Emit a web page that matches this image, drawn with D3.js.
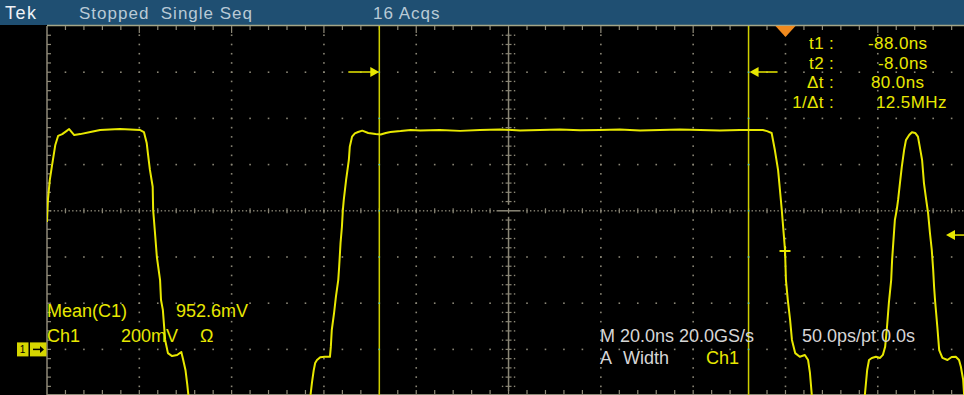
<!DOCTYPE html>
<html><head><meta charset="utf-8">
<script src="https://cdn.jsdelivr.net/npm/d3@7"></script>
<style>
html,body{margin:0;padding:0;background:#000;overflow:hidden}
svg{display:block}
text{font-family:"Liberation Sans",Arial,sans-serif}
</style>
</head><body>
<script>
// ---------------- data ----------------
// waveform: time in ns (t=0 at trigger), voltage in V (200 mV/div)
const timeNs = [
  -160.0,-159.8,-159.4,-158.9,-158.2,-157.6,-156.7,-155.8,-155.2,-154.1,-152.8,-150.6,-148.5,-146.4,-144.2,-142.0,-139.9,-139.0,
  -138.4,-138.1,-137.7,-137.1,-137.0,-136.6,-136.2,-135.5,-135.3,-134.9,-134.4,-133.8,-132.9,-131.8,-130.9,-130.5,-130.0,-129.6,-129.3,-128.9,
  -103.3,-102.9,-102.6,-102.2,-101.9,-101.5,-100.8,-99.8,-98.7,-98.5,-98.3,-97.8,-97.4,-96.9,-96.7,-96.4,-96.1,-95.9,-95.7,-95.2,-94.6,-94.4,-93.9,-93.3,-92.6,-91.7,-90.4,-88.8,-87.7,-86.6,-85.6,-83.4,-81.2,-79.1,
  -74.9,-70.5,-66.2,-61.9,-57.5,-53.2,-48.9,-44.5,-40.2,-35.9,-31.5,-27.2,-22.9,-18.5,-14.2,-9.9,-4.9,-4.0,-3.0,-2.3,-1.6,-1.2,-0.8,-0.4,-0.1,0.1,0.5,1.0,1.4,2.1,3.1,4.2,4.9,5.3,5.7,6.0,
  17.0,17.2,17.7,18.1,18.7,19.6,20.5,21.1,21.6,22.0,22.4,22.9,23.1,23.4,23.7,24.1,24.4,24.8,25.2,25.7,26.1,26.8,27.4,28.1,28.7,29.1,29.6,30.0,30.4,30.9,31.3,31.7,32.0,32.2,32.4,32.9,33.3,34.0,35.1,36.0,36.9,37.6,38.0,38.5,38.7,38.9
];
const voltsV = [
  0.552,0.647,0.733,0.798,0.885,0.924,0.932,0.945,0.954,0.928,0.932,0.941,0.950,0.952,0.954,0.952,0.950,0.941,
  0.894,0.842,0.777,0.704,0.603,0.504,0.401,0.300,0.214,0.171,0.041,-0.016,-0.029,-0.024,-0.011,-0.045,-0.089,-0.154,-0.21,-0.25,
  -0.25,-0.197,-0.145,-0.089,-0.059,-0.046,-0.034,-0.032,-0.032,0.012,0.084,0.158,0.228,0.300,0.358,0.461,0.531,0.603,0.647,0.733,0.820,0.877,0.921,0.935,0.941,0.947,0.937,0.932,0.930,0.937,0.941,0.945,0.950,0.948,
  0.950,0.946,0.950,0.952,0.948,0.950,0.952,0.949,0.950,0.952,0.948,0.950,0.952,0.950,0.948,0.950,0.950,0.945,0.937,0.863,0.776,0.690,0.603,0.504,0.430,0.300,0.214,0.128,0.041,-0.016,-0.032,-0.024,-0.046,-0.102,-0.197,-0.25,
  -0.25,-0.197,-0.089,-0.046,-0.037,-0.032,-0.037,-0.024,0.012,0.098,0.201,0.300,0.387,0.474,0.560,0.603,0.647,0.720,0.790,0.863,0.906,0.928,0.940,0.937,0.921,0.877,0.820,0.720,0.660,0.590,0.504,0.430,0.344,0.270,0.214,0.098,-0.003,-0.037,-0.046,-0.033,-0.032,-0.046,-0.075,-0.132,-0.197,-0.25
];
const timeDomain = [-160, 40];      // 20 ns/div, 10 div
const voltDomain = [-0.2, 1.4];     // 200 mV/div, 8 div
const cursorTimes = [-88, -8];
const triggerTime = 0;
const triggerLevel = 0.495;
const widthMarker = {t: -0.1, v: 0.426};
const statusTexts = ["Tek", "Stopped  Single Seq", "16 Acqs"];
const readoutLabels = ["t1", "t2", "\u0394t", "1/\u0394t"];
const readoutValues = ["-88.0ns", "-8.0ns", "80.0ns", "12.5MHz"];
const measureTexts = ["Mean(C1)", "952.6mV"];
const channelTexts = ["Ch1", "200mV", "\u03A9"];
const timebaseTexts = ["M 20.0ns 20.0GS/s", "50.0ps/pt 0.0s"];
const triggerTexts = ["A", "Width", "Ch1"];

// ---------------- drawing ----------------
const W = 964, H = 395;
const YEL = "#e8e800", YEL2 = "#cfcf00", GRID = "#8a8676", WHITE = "#d6d6d6";
const x = d3.scaleLinear().domain(timeDomain).range([47, 970.1]);
const y = d3.scaleLinear().domain(voltDomain).range([395.6, 26]);

const svg = d3.select("body").append("svg").attr("width", W).attr("height", H);
svg.append("rect").attr("width", W).attr("height", H).attr("fill", "#000");

// top status bar
svg.append("rect").attr("x", 0).attr("y", 0).attr("width", W).attr("height", 25).attr("fill", "#1f4f72");
const bar = svg.append("g").attr("font-size", 17);
bar.append("text").attr("x", 5).attr("y", 19).attr("fill", "#eef2f6").attr("letter-spacing", 1.5).attr("font-size", 18).text(statusTexts[0]);
bar.append("text").attr("x", 79).attr("y", 19).attr("fill", "#b9cad6").attr("letter-spacing", 1).attr("xml:space", "preserve").style("white-space", "pre").text(statusTexts[1]);
bar.append("text").attr("x", 373).attr("y", 19).attr("fill", "#b9cad6").attr("letter-spacing", 1).text(statusTexts[2]);

const defs = svg.append("defs");
defs.append("clipPath").attr("id", "plot").append("rect").attr("x", 47).attr("y", 26).attr("width", W - 47).attr("height", H - 26);

const g = svg.append("g");
const tMajors = d3.range(0, 11).map(i => timeDomain[0] + 20 * i);
const vMajors = d3.range(0, 9).map(j => voltDomain[0] + 0.2 * j);
const tCenter = -60, vCenter = 0.6;

// dotted gridlines
const dots = [];
tMajors.slice(1, 10).forEach(t => {
  if (t === tCenter) return;
  d3.range(1, 40).forEach(k => dots.push([x(t), y(voltDomain[0] + 0.04 * k)]));
});
vMajors.slice(1, 8).forEach(v => {
  if (Math.abs(v - vCenter) < 1e-6) return;
  d3.range(1, 50).forEach(k => dots.push([x(timeDomain[0] + 4 * k), y(v)]));
});
g.selectAll("rect.dot").data(dots).join("rect").attr("class", "dot")
  .attr("x", d => d[0] - 0.8).attr("y", d => d[1] - 0.8).attr("width", 1.6).attr("height", 1.6).attr("fill", GRID);

// center horizontal line: fine dots + ticks
const cy = y(vCenter), cx = x(tCenter);
const cdots = d3.range(1, 250).map(k => timeDomain[0] + 0.8 * k).filter(t => Math.abs(x(t) - cx) > 12);
g.selectAll("rect.cdot").data(cdots).join("rect").attr("class", "cdot")
  .attr("x", d => x(d) - 0.7).attr("y", cy - 0.7).attr("width", 1.4).attr("height", 1.4).attr("fill", GRID);
g.selectAll("line.ctick").data(d3.range(1, 50).map(k => timeDomain[0] + 4 * k)).join("line").attr("class", "ctick")
  .attr("x1", d => x(d)).attr("x2", d => x(d)).attr("y1", cy - 2.5).attr("y2", cy + 2.5).attr("stroke", GRID).attr("stroke-width", 1.2);
g.append("line").attr("x1", cx - 12).attr("x2", cx + 12).attr("y1", cy).attr("y2", cy).attr("stroke", GRID).attr("stroke-width", 1.5);
// center vertical line
g.append("line").attr("x1", cx).attr("x2", cx).attr("y1", y(1.37)).attr("y2", cy - 6).attr("stroke", GRID).attr("stroke-width", 1.5);
g.append("line").attr("x1", cx).attr("x2", cx).attr("y1", cy + 6).attr("y2", y(-0.18)).attr("stroke", GRID).attr("stroke-width", 1.5);
const vt = d3.range(1, 40).map(k => voltDomain[0] + 0.04 * k).filter(v => Math.abs(y(v) - cy) > 6);
g.selectAll("line.vtick").data(vt).join("line").attr("class", "vtick")
  .attr("x1", cx - 3).attr("x2", cx + 3).attr("y1", d => y(d)).attr("y2", d => y(d)).attr("stroke", GRID).attr("stroke-width", 1.2);
g.selectAll("rect.vtd").data(vt.flatMap(v => [[cx - 6, y(v)], [cx + 6, y(v)]])).join("rect").attr("class", "vtd")
  .attr("x", d => d[0] - 0.7).attr("y", d => d[1] - 0.7).attr("width", 1.4).attr("height", 1.4).attr("fill", GRID);

// frame
const FR = "#a4a688";
g.append("line").attr("x1", 47).attr("x2", 47).attr("y1", 26).attr("y2", H).attr("stroke", "#8f8a78").attr("stroke-width", 1.5);
g.append("line").attr("x1", 47).attr("x2", W).attr("y1", 25.5).attr("y2", 25.5).attr("stroke", FR).attr("stroke-width", 1.5);
g.append("line").attr("x1", 47).attr("x2", W).attr("y1", 394.5).attr("y2", 394.5).attr("stroke", "#8f8a78").attr("stroke-width", 1.2);
const edgeT = d3.range(1, 50).map(k => timeDomain[0] + 4 * k);
g.selectAll("line.tt").data(edgeT).join("line").attr("class", "tt")
  .attr("x1", d => x(d)).attr("x2", d => x(d)).attr("y1", 26).attr("y2", (d, i) => (i + 1) % 5 === 0 ? 33 : 30).attr("stroke", "#8f8a78").attr("stroke-width", 1.2);
g.selectAll("line.bt").data(edgeT).join("line").attr("class", "bt")
  .attr("x1", d => x(d)).attr("x2", d => x(d)).attr("y1", 394).attr("y2", 390).attr("stroke", "#8f8a78").attr("stroke-width", 1.2);
g.selectAll("line.lt").data(d3.range(1, 40).map(k => voltDomain[0] + 0.04 * k)).join("line").attr("class", "lt")
  .attr("x1", 47).attr("x2", 51).attr("y1", d => y(d)).attr("y2", d => y(d)).attr("stroke", "#8f8a78").attr("stroke-width", 1.2);

// cursors
cursorTimes.forEach(t => {
  g.append("line").attr("x1", x(t)).attr("x2", x(t)).attr("y1", 26).attr("y2", H).attr("stroke", YEL2).attr("stroke-width", 1.5);
  vMajors.slice(1, 8).forEach(v => g.append("rect").attr("x", x(t) - 0.7).attr("y", y(v) - 0.7).attr("width", 1.4).attr("height", 1.4).attr("fill", "#40c8c8"));
});
const ay = 72;
// cursor 1 arrow (points right to the cursor)
g.append("line").attr("x1", x(cursorTimes[0]) - 31).attr("x2", x(cursorTimes[0]) - 6).attr("y1", ay).attr("y2", ay).attr("stroke", YEL).attr("stroke-width", 1.5);
g.append("path").attr("d", `M${x(cursorTimes[0])},${ay} l-9,-5 l0,10 z`).attr("fill", YEL);
// cursor 2 arrow (points left to the cursor)
g.append("line").attr("x1", x(cursorTimes[1]) + 6).attr("x2", x(cursorTimes[1]) + 29).attr("y1", ay).attr("y2", ay).attr("stroke", YEL).attr("stroke-width", 1.5);
g.append("path").attr("d", `M${x(cursorTimes[1]) + 1},${ay} l9,-5 l0,10 z`).attr("fill", YEL);

// waveform
const pts = timeNs.map((t, i) => [t, voltsV[i]]);
svg.append("path").datum(pts).attr("clip-path", "url(#plot)")
  .attr("d", d3.line().x(d => x(d[0])).y(d => y(d[1])))
  .attr("fill", "none").attr("stroke", YEL).attr("stroke-width", 2).attr("stroke-linejoin", "round");

// width measurement marker
const mx = x(widthMarker.t), my = y(widthMarker.v);
svg.append("path").attr("d", `M${mx - 5.5},${my} H${mx + 5.5} M${mx},${my - 5} V${my + 5}`).attr("stroke", YEL).attr("stroke-width", 2);

// trigger marker (orange) at top
const tx = x(triggerTime);
svg.append("path").attr("d", `M${tx - 10},26 L${tx + 10},26 L${tx},37 z`).attr("fill", "#f08a1e");
// trigger level arrow at right
const ty = y(triggerLevel);
svg.append("line").attr("x1", 953).attr("x2", W).attr("y1", ty).attr("y2", ty).attr("stroke", YEL).attr("stroke-width", 1.5);
svg.append("path").attr("d", `M946,${ty} l9,-5 l0,10 z`).attr("fill", YEL);

// ground marker "1 ->" at 0 V
const gy = y(0);
svg.append("rect").attr("x", 17).attr("y", gy - 7).attr("width", 11.5).attr("height", 14).attr("fill", "#d6d600");
svg.append("rect").attr("x", 30).attr("y", gy - 7).attr("width", 16.5).attr("height", 14).attr("fill", "#d6d600");
svg.append("text").attr("x", 22.5).attr("y", gy + 4).attr("font-size", 10).attr("fill", "#000").attr("text-anchor", "middle").text("1");
svg.append("line").attr("x1", 33).attr("x2", 41).attr("y1", gy).attr("y2", gy).attr("stroke", "#000").attr("stroke-width", 1.5);
svg.append("path").attr("d", `M44,${gy} l-4,-3.5 l0,7 z`).attr("fill", "#000");

// cursor readouts
const ro = svg.append("g").attr("font-size", 17).attr("fill", YEL).attr("letter-spacing", 0.4);
const roStart = [868, 878, 871, 876];
readoutLabels.forEach((lab, i) => {
  const by = 49 + i * 19.7;
  ro.append("text").attr("x", 824).attr("y", by).attr("text-anchor", "end").text(lab);
  ro.append("text").attr("x", 829).attr("y", by).text(":");
  ro.append("text").attr("x", roStart[i]).attr("y", by).text(readoutValues[i]);
});

// bottom-left measurement + channel texts
const bl = svg.append("g").attr("font-size", 18).attr("fill", YEL);
bl.append("text").attr("x", 47).attr("y", 317).text(measureTexts[0]);
bl.append("text").attr("x", 176).attr("y", 317).text(measureTexts[1]);
bl.append("text").attr("x", 47).attr("y", 342).text(channelTexts[0]);
bl.append("text").attr("x", 121).attr("y", 342).text(channelTexts[1]);
bl.append("text").attr("x", 200).attr("y", 342).text(channelTexts[2]);

// bottom-right timebase/trigger texts
const br = svg.append("g").attr("font-size", 18).attr("fill", WHITE);
br.append("text").attr("x", 600).attr("y", 342).text(timebaseTexts[0]);
br.append("text").attr("x", 802).attr("y", 342).text(timebaseTexts[1]);
br.append("text").attr("x", 600).attr("y", 364).text(triggerTexts[0]);
br.append("text").attr("x", 623).attr("y", 364).text(triggerTexts[1]);
br.append("text").attr("x", 706).attr("y", 364).attr("fill", YEL).text(triggerTexts[2]);
</script>
</body></html>
